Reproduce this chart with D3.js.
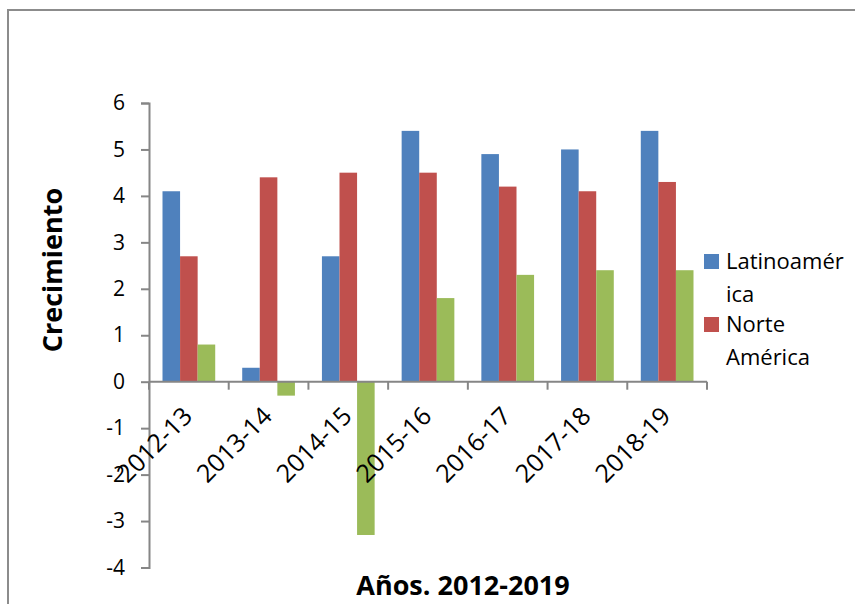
<!DOCTYPE html>
<html>
<head>
<meta charset="utf-8">
<script src="https://cdn.jsdelivr.net/npm/d3@7"></script>
<style>
  body { margin: 0; background: #fff; }
  svg text { font-family: "Open Sans", "Noto Sans", sans-serif; fill: #000; }
</style>
</head>
<body>
<svg id="chart" width="855" height="604"></svg>
<script>
// chart data
const years = ['2012-13','2013-14','2014-15','2015-16','2016-17','2017-18','2018-19'];
const latam = [4.1, 0.3, 2.7, 5.4, 4.9, 5.0, 5.4];
const norteAmerica = [2.7, 4.4, 4.5, 4.5, 4.2, 4.1, 4.3];
const third = [0.8, -0.3, -3.3, 1.8, 2.3, 2.4, 2.4];
const yTicks = [-4, -3, -2, -1, 0, 1, 2, 3, 4, 5, 6];
const legendLabels = [['Latinoamér','ica'], ['Norte','América']];

const series = [
  {key:'latam', values: latam, color:'#4F81BD'},
  {key:'norte', values: norteAmerica, color:'#C0504D'},
  {key:'third', values: third, color:'#9BBB59'}
];

const svg = d3.select('#chart');

// frame (runs off right and bottom edges)
svg.append('rect')
  .attr('x',8).attr('y',10)
  .attr('width',900).attr('height',700)
  .attr('fill','none')
  .attr('stroke','#8c8c8c')
  .attr('stroke-width',2);

const y = d3.scaleLinear().domain([-4,6]).range([567.5,103]);
const x = d3.scaleBand().domain(years).range([149,707]).padding(0);
const xInner = d3.scaleBand().domain(series.map(d => d.key))
  .range([13.5, x.bandwidth()-13.5]).padding(0);

// bars
series.forEach(function(s){
  svg.append('g').selectAll('rect')
    .data(s.values)
    .join('rect')
    .attr('x',(d,i) => x(years[i]) + xInner(s.key))
    .attr('width',xInner.bandwidth())
    .attr('y',d => y(Math.max(0,d)))
    .attr('height',d => Math.abs(y(d)-y(0)))
    .attr('fill',s.color);
});

// y axis
const yAxis = svg.append('g')
  .attr('transform','translate(149,0)')
  .call(d3.axisLeft(y).tickValues(yTicks).tickSize(8).tickPadding(16).tickFormat(d => String(d)));
yAxis.select('.domain').attr('stroke','#868686').attr('stroke-width',2);
yAxis.selectAll('.tick line').attr('stroke','#868686').attr('stroke-width',2);
yAxis.selectAll('.tick text')
  .style('font-size','21px')
  .style('font-family','"Open Sans", sans-serif')
  .attr('fill','#000');

// x axis along zero line, ticks at category boundaries
const xAxisG = svg.append('g');
xAxisG.append('line')
  .attr('x1',149).attr('x2',707)
  .attr('y1',y(0)).attr('y2',y(0))
  .attr('stroke','#868686').attr('stroke-width',2);
const bounds = years.map(d => x(d) + x.bandwidth()).concat([149]);
xAxisG.selectAll('line.tk')
  .data(bounds)
  .join('line')
  .attr('class','tk')
  .attr('x1',d => d).attr('x2',d => d)
  .attr('y1',y(0)).attr('y2',y(0)+8)
  .attr('stroke','#868686').attr('stroke-width',2);

// rotated category labels
svg.append('g').selectAll('text')
  .data(years)
  .join('text')
  .attr('text-anchor','end')
  .attr('transform',d => `translate(${x(d)+x.bandwidth()/2+5},${y(0)+36})rotate(-45)`)
  .style('font-size','25px')
  .text(d => d);

// axis titles
svg.append('text')
  .attr('transform','translate(62,270)rotate(-90)')
  .attr('text-anchor','middle')
  .style('font-size','27px')
  .style('font-weight','bold')
  .text('Crecimiento');

svg.append('text')
  .attr('x',463).attr('y',595)
  .attr('text-anchor','middle')
  .style('font-size','27px')
  .style('font-weight','bold')
  .text('Años. 2012-2019');

// legend (only two entries)
const legend = svg.append('g');
legendLabels.forEach(function(lines,i){
  const top = 254 + i*63;
  legend.append('rect')
    .attr('x',704).attr('y',top)
    .attr('width',15).attr('height',15)
    .attr('fill',series[i].color);
  const t = legend.append('text')
    .attr('x',726).attr('y',top+15)
    .style('font-size','22px');
  lines.forEach(function(l,j){
    t.append('tspan').attr('x',726).attr('dy',j === 0 ? 0 : 33).text(l);
  });
});
</script>
</body>
</html>
